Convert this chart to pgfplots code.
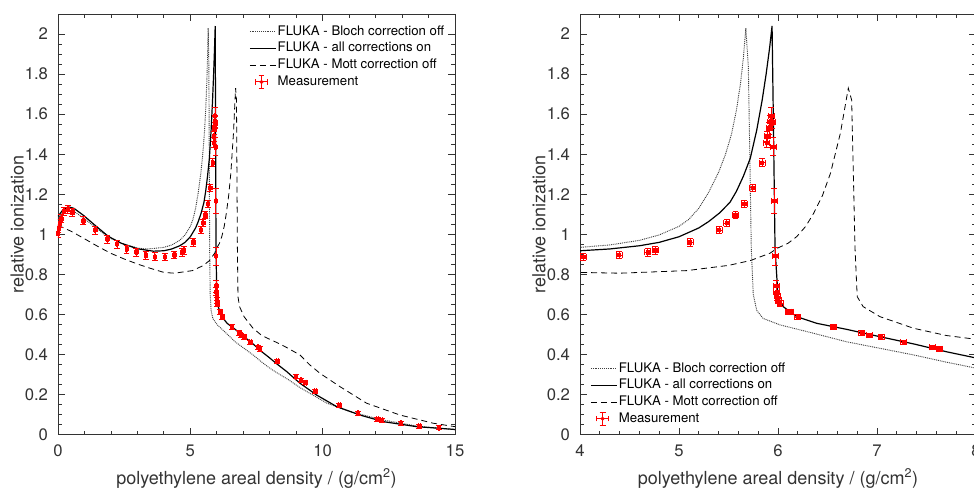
\documentclass[border=0pt]{standalone}
\usepackage{fontspec}
\setmainfont{TeX Gyre Heros}
\usepackage{pgfplots}
\pgfplotsset{compat=1.18}
\usepackage{pgfplotstable}

% FLUKA - all corrections on
\pgfplotstableread{
x y
0.00 1.090
0.20 1.125
0.40 1.137
0.60 1.130
0.96 1.095
1.40 1.045
1.90 0.990
2.40 0.955
3.00 0.928
3.60 0.916
4.00 0.918
4.30 0.927
4.60 0.943
4.80 0.960
5.00 0.988
5.20 1.032
5.30 1.064
5.41 1.107
5.515 1.160
5.58 1.215
5.65 1.290
5.72 1.380
5.785 1.520
5.84 1.670
5.88 1.800
5.915 1.930
5.940 2.040
5.955 1.500
5.970 0.930
6.000 0.690
6.050 0.640
6.190 0.589
6.390 0.556
6.690 0.526
7.030 0.489
7.370 0.453
7.700 0.414
7.970 0.386
8.300 0.350
8.640 0.315
9.140 0.257
9.770 0.198
10.53 0.140
11.41 0.098
12.29 0.065
13.55 0.040
15.00 0.026
}\allon

% FLUKA - Bloch correction off
\pgfplotstableread{
x y
0.00 1.080
0.20 1.110
0.40 1.120
0.60 1.115
0.96 1.082
1.40 1.036
1.90 0.985
2.40 0.955
3.00 0.932
3.30 0.927
3.66 0.930
4.00 0.935
4.30 0.947
4.60 0.970
4.80 0.997
5.00 1.040
5.10 1.075
5.20 1.130
5.30 1.210
5.40 1.310
5.47 1.400
5.53 1.500
5.58 1.620
5.62 1.750
5.65 1.880
5.675 2.030
5.700 1.840
5.717 1.340
5.730 0.930
5.750 0.700
5.785 0.620
5.850 0.580
6.020 0.548
6.360 0.506
6.690 0.464
7.030 0.431
7.370 0.398
7.700 0.362
7.970 0.335
8.260 0.310
8.700 0.275
9.140 0.235
10.15 0.158
11.03 0.115
12.29 0.073
13.55 0.043
15.00 0.025
}\blochoff

% FLUKA - Mott correction off
\pgfplotstableread{
x y
0.00 1.045
0.50 1.015
1.00 0.978
1.50 0.940
2.00 0.905
2.50 0.877
3.00 0.852
3.50 0.830
4.00 0.810
4.40 0.806
5.08 0.819
5.50 0.845
5.72 0.869
5.92 0.906
5.99 0.930
6.10 0.955
6.19 0.989
6.28 1.040
6.36 1.105
6.45 1.195
6.53 1.305
6.63 1.505
6.71 1.730
6.744 1.670
6.778 0.930
6.80 0.689
6.86 0.639
7.03 0.589
7.37 0.531
7.70 0.495
7.97 0.478
8.30 0.458
8.64 0.435
9.14 0.398
9.50 0.350
9.90 0.306
10.65 0.240
11.66 0.157
12.92 0.098
14.18 0.057
15.00 0.040
}\mottoff

% Measurement
\pgfplotstableread{
x y ex ey
0.000 1.005 0.03 0.02
0.020 1.030 0.03 0.02
0.070 1.055 0.03 0.02
0.120 1.078 0.03 0.02
0.220 1.115 0.03 0.02
0.370 1.125 0.03 0.02
0.540 1.110 0.03 0.02
0.960 1.068 0.03 0.02
1.400 1.022 0.03 0.02
1.860 0.977 0.03 0.02
2.230 0.952 0.03 0.02
2.590 0.927 0.03 0.02
2.960 0.912 0.03 0.02
3.310 0.896 0.03 0.02
3.660 0.889 0.03 0.02
4.034 0.889 0.03 0.018
4.394 0.897 0.03 0.018
4.684 0.910 0.03 0.018
4.758 0.920 0.03 0.018
5.111 0.960 0.03 0.018
5.404 1.022 0.03 0.018
5.482 1.057 0.03 0.018
5.570 1.096 0.03 0.018
5.660 1.152 0.03 0.018
5.746 1.233 0.03 0.018
5.838 1.358 0.03 0.02
5.886 1.458 0.03 0.025
5.892 1.490 0.03 0.025
5.912 1.530 0.03 0.03
5.919 1.563 0.03 0.03
5.932 1.591 0.03 0.045
5.940 1.560 0.03 0.03
5.953 1.438 0.03 0.045
5.963 1.167 0.03 0.06
5.970 0.892 0.03 0.045
5.980 0.742 0.03 0.03
5.985 0.714 0.03 0.02
5.990 0.692 0.03 0.02
6.000 0.672 0.03 0.015
6.020 0.656 0.03 0.015
6.104 0.614 0.03 0.012
6.130 0.614 0.03 0.012
6.200 0.586 0.03 0.012
6.560 0.536 0.03 0.012
6.845 0.506 0.03 0.012
6.920 0.496 0.03 0.012
7.040 0.489 0.03 0.012
7.270 0.461 0.03 0.012
7.560 0.436 0.03 0.012
7.630 0.428 0.03 0.012
8.290 0.368 0.03 0.01
8.990 0.290 0.03 0.01
9.180 0.273 0.03 0.01
9.340 0.260 0.03 0.01
9.720 0.218 0.03 0.01
10.63 0.147 0.03 0.01
11.33 0.107 0.03 0.01
12.06 0.078 0.03 0.01
12.23 0.073 0.03 0.01
12.95 0.057 0.03 0.01
13.65 0.043 0.03 0.01
14.39 0.035 0.03 0.01
}\meas

\definecolor{txt}{HTML}{333333}

\pgfplotsset{
  panel/.style={
    scale only axis, height=315.5pt,
    ymin=0, ymax=2.1,
    ytick={0,0.2,0.4,0.6,0.8,1,1.2,1.4,1.6,1.8,2},
    minor y tick num=3, minor x tick num=4,
    tick align=inside, major tick length=5pt, minor tick length=3pt,
    axis line style={txt, line width=0.6pt},
    every tick/.style={txt, line width=0.6pt},
    tick label style={font=\fontsize{12.5}{14}\selectfont, text=txt},
    /pgf/number format/assume math mode=true,
    yticklabel style={xshift=-4pt},
    xticklabel style={yshift=-4pt},
    ylabel={relative ionization},
    xlabel={polyethylene areal density / (g/cm\textsuperscript{2})},
    every axis x label/.style={at={(axis description cs:0.5,-0.1173)}, anchor=base,
      font=\fontsize{13.5}{16}\selectfont, text=txt},
    clip mode=individual,
    legend cell align=left,
  },
  ylab/.style={every axis y label/.style={at={(axis description cs:#1,0.5)},
      rotate=90, anchor=center, font=\fontsize{13.5}{16}\selectfont, text=txt}},
  fluka/.style={sharp plot, no marks,
    legend image code/.code={\draw[##1] (0pt,0pt) -- (19.5pt,0pt);}},
  blochstyle/.style={fluka, black!75, line width=0.7pt, dash pattern=on 0.7pt off 0.7pt},
  allonstyle/.style={fluka, black, line width=0.9pt},
  mottstyle/.style={fluka, black, line width=0.6pt, dash pattern=on 4.5pt off 3pt},
  measstyle/.style={only marks, mark=square*, mark size=1.3pt,
    mark options={fill=red, draw=red, line width=0.4pt},
    error bars/.cd, x dir=both, x explicit, y dir=both, y explicit,
    error bar style={red, line width=0.6pt},
    error mark options={red, rotate=90, mark size=2.2pt, line width=0.6pt},
    /pgfplots/.cd,
    legend image code/.code={
      \draw[red, line width=0.7pt] (4.5pt,0pt) -- (13.1pt,0pt)
        (4.5pt,-2pt) -- (4.5pt,2pt) (13.1pt,-2pt) -- (13.1pt,2pt)
        (8.8pt,-5pt) -- (8.8pt,5pt) (6.6pt,5pt) -- (11pt,5pt)
        (6.6pt,-5pt) -- (11pt,-5pt);
      \fill[red] (8.8pt,0pt) circle (1.3pt);}},
  leg/.style={draw=none, fill=none, inner sep=0pt, row sep=0pt,
    font=\fontsize{9.9}{11}\selectfont, text=black,
    nodes={inner sep=1pt, text height=7.8pt, text depth=2.7pt}},
}

\begin{document}
\begin{tikzpicture}
\begin{axis}[panel, ylab=-0.103,
  at={(0pt,0pt)}, anchor=south west,
  width=297.75pt,
  xmin=0, xmax=15, xtick={0,5,10,15},
  legend style={leg, at={(axis description cs:1,1)}, anchor=north east, xshift=-7pt, yshift=-7pt},
]
\addplot[blochstyle] table[x=x, y=y] {\blochoff};
\addlegendentry{FLUKA - Bloch correction off}
\addplot[allonstyle] table[x=x, y=y] {\allon};
\addlegendentry{FLUKA - all corrections on}
\addplot[mottstyle] table[x=x, y=y] {\mottoff};
\addlegendentry{FLUKA - Mott correction off}
\addplot[measstyle] table[x=x, y=y, x error=ex, y error=ey] {\meas};
\addlegendentry{Measurement}
\end{axis}

\begin{axis}[panel, ylab=-0.1035,
  at={(391.5pt,0pt)}, anchor=south west,
  width=297pt,
  xmin=4, xmax=8, xtick={4,5,6,7,8},
  clip mode=global,
  legend style={leg, at={(axis description cs:0,0)}, anchor=south west, xshift=7.5pt, yshift=5.5pt},
]
\addplot[blochstyle] table[x=x, y=y] {\blochoff};
\addlegendentry{FLUKA - Bloch correction off}
\addplot[allonstyle] table[x=x, y=y] {\allon};
\addlegendentry{FLUKA - all corrections on}
\addplot[mottstyle] table[x=x, y=y] {\mottoff};
\addlegendentry{FLUKA - Mott correction off}
\addplot[measstyle] table[x=x, y=y, x error=ex, y error=ey] {\meas};
\addlegendentry{Measurement}
\end{axis}

\pgfresetboundingbox
\path[use as bounding box] (-43.5pt,-40pt) rectangle (687pt,326pt);
\end{tikzpicture}
\end{document}
